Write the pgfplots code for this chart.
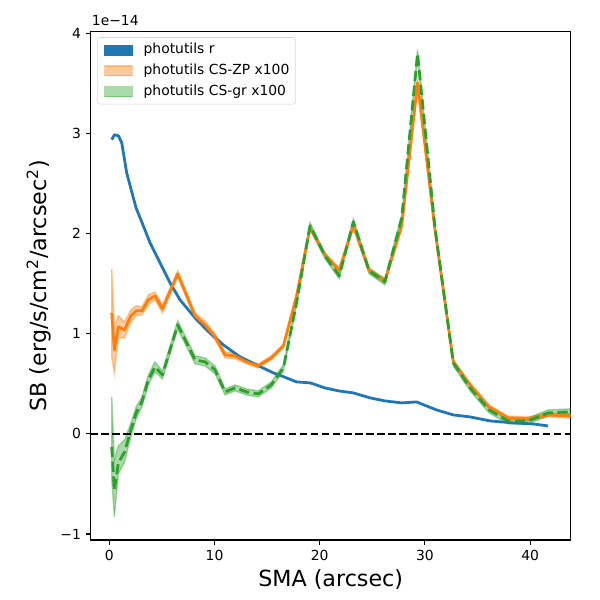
\documentclass[border=0pt]{standalone}
\usepackage{pgfplots}
\pgfplotsset{compat=1.18}
\usepgfplotslibrary{fillbetween}
\usepackage{pgfplotstable}
\usepackage{fontspec}
\setmainfont{DejaVu Sans}
\definecolor{C0}{HTML}{1F77B4}
\definecolor{C1}{HTML}{FF7F0E}
\definecolor{C2}{HTML}{2CA02C}

\pgfplotstableread{
x y
0.23 2.94
0.48 2.99
0.86 2.98
1.18 2.91
1.40 2.77
1.65 2.61
2.13 2.42
2.54 2.26
3.08 2.12
3.87 1.91
4.82 1.71
5.77 1.51
6.72 1.34
8.15 1.16
9.35 1.03
10.84 0.89
12.42 0.77
14.0 0.69
15.6 0.61
16.6 0.57
17.8 0.52
19.1 0.51
20.5 0.46
21.8 0.43
23.2 0.41
24.8 0.36
26.2 0.33
27.8 0.31
29.2 0.32
31.1 0.24
32.7 0.19
34.3 0.17
36.2 0.13
38.4 0.11
40.3 0.10
41.7 0.08
}\blue

\pgfplotstableread{
x y lo hi
0.23 1.21 0.77 1.65
0.48 0.84 0.61 1.07
0.86 1.07 0.96 1.18
1.45 1.04 0.96 1.12
2.05 1.18 1.12 1.24
2.55 1.23 1.18 1.28
3.1 1.23 1.19 1.27
3.71 1.34 1.29 1.39
4.34 1.38 1.34 1.42
5.05 1.25 1.21 1.29
6.5 1.60 1.57 1.63
8.15 1.18 1.15 1.21
9.1 1.09 1.05 1.13
10.05 0.97 0.94 1.00
11.0 0.79 0.76 0.82
11.95 0.78 0.75 0.81
13.05 0.72 0.70 0.74
14.15 0.68 0.66 0.70
15.4 0.76 0.74 0.78
16.55 0.88 0.86 0.90
17.8 1.38 1.36 1.40
19.08 2.06 2.04 2.08
20.5 1.79 1.77 1.81
21.86 1.64 1.62 1.66
23.2 2.08 2.06 2.10
24.7 1.63 1.61 1.65
26.2 1.53 1.51 1.55
27.8 2.08 2.06 2.10
29.3 3.51 3.48 3.54
30.96 2.04 2.02 2.06
32.7 0.72 0.70 0.74
34.3 0.49 0.47 0.51
36.1 0.27 0.25 0.29
37.9 0.16 0.14 0.18
39.8 0.15 0.13 0.17
41.7 0.19 0.17 0.21
43.8 0.18 0.16 0.20
45.9 0.18 0.16 0.20
}\orange

\pgfplotstableread{
x y lo hi
0.23 -0.13 -0.45 0.37
0.48 -0.56 -0.83 -0.26
0.86 -0.29 -0.40 -0.12
1.45 -0.18 -0.28 -0.06
2.05 0.04 -0.03 0.11
2.55 0.21 0.15 0.27
3.1 0.32 0.27 0.37
3.71 0.54 0.49 0.59
4.34 0.67 0.62 0.72
5.05 0.59 0.55 0.63
6.5 1.09 1.05 1.13
8.15 0.74 0.70 0.78
9.1 0.72 0.68 0.76
10.05 0.64 0.60 0.68
11.0 0.42 0.39 0.45
11.95 0.46 0.43 0.49
13.05 0.42 0.39 0.45
14.15 0.40 0.37 0.43
15.4 0.49 0.46 0.52
16.55 0.66 0.63 0.69
17.8 1.31 1.28 1.34
19.08 2.08 2.05 2.11
20.5 1.78 1.75 1.81
21.86 1.58 1.55 1.61
23.2 2.12 2.09 2.15
24.7 1.63 1.60 1.66
26.2 1.52 1.49 1.55
27.8 2.16 2.13 2.19
29.3 3.80 3.76 3.84
30.96 2.06 2.03 2.09
32.7 0.71 0.68 0.74
34.3 0.46 0.43 0.49
36.1 0.24 0.21 0.27
37.9 0.13 0.10 0.16
39.8 0.13 0.10 0.16
41.7 0.21 0.18 0.24
43.8 0.22 0.19 0.25
45.9 0.22 0.19 0.25
}\green

\begin{document}
\begin{tikzpicture}
\begin{axis}[
  scale only axis, width=345.6pt, height=366pt,
  xmin=-1.77, xmax=43.86, ymin=-1.06, ymax=4.02,
  axis line style={black, line width=0.8pt},
  tick align=outside, tick pos=left, major tick length=3.5pt,
  every tick/.style={black, line width=0.8pt},
  xtick={0,10,20,30,40}, xticklabels={0,10,20,30,40},
  ytick={-1,0,1,2,3,4}, yticklabels={−1,0,1,2,3,4},
  ticklabel style={font=\fontsize{10}{12}\selectfont},
  xlabel={SMA (arcsec)},
  ylabel={SB (erg/s/cm\textsuperscript{2}/arcsec\textsuperscript{2})},
  every axis x label/.style={at={([yshift=-28.8pt]rel axis cs:0.5,0)}, anchor=center, font=\fontsize{16}{19}\selectfont},
  every axis y label/.style={at={([xshift=-37.2pt]rel axis cs:0,0.5)}, rotate=90, anchor=center, font=\fontsize{16}{19}\selectfont},
  legend style={
    at={(0,1)}, anchor=north west, xshift=4.75pt, yshift=-4pt,
    draw=black!16, rounded corners=2pt, fill=white,
    font=\fontsize{10}{12}\selectfont,
    inner xsep=4.5pt, inner ysep=4pt, row sep=5pt,
    nodes={inner sep=0pt, text height=7.6pt, text depth=2.4pt},
  },
  legend cell align=left,
]
\addlegendimage{legend image code/.code={\fill[C0, sharp corners] (0pt,-3.5pt) rectangle (20pt,3.5pt); \path (28pt,0pt);}}
\addlegendentry{photutils r}
\addlegendimage{legend image code/.code={\filldraw[sharp corners, fill=C1, draw=C1, fill opacity=0.4, draw opacity=0.4, line width=1pt] (0pt,-3.5pt) rectangle (20pt,3.5pt); \path (28pt,0pt);}}
\addlegendentry{photutils CS-ZP x100}
\addlegendimage{legend image code/.code={\filldraw[sharp corners, fill=C2, draw=C2, fill opacity=0.4, draw opacity=0.4, line width=1pt] (0pt,-3.5pt) rectangle (20pt,3.5pt); \path (28pt,0pt);}}
\addlegendentry{photutils CS-gr x100}

\addplot[C0, line width=2pt, line join=round, forget plot] table[x=x,y=y]{\blue};

\addplot[name path=ohi, draw=none, forget plot] table[x=x,y=hi]{\orange};
\addplot[name path=olo, draw=none, forget plot] table[x=x,y=lo]{\orange};
\addplot[fill=C1, fill opacity=0.4, draw=C1, draw opacity=0.4, line width=1pt, forget plot] fill between[of=ohi and olo];
\addplot[C1, line width=2pt, line join=round, forget plot] table[x=x,y=y]{\orange};

\addplot[name path=ghi, draw=none, forget plot] table[x=x,y=hi]{\green};
\addplot[name path=glo, draw=none, forget plot] table[x=x,y=lo]{\green};
\addplot[fill=C2, fill opacity=0.4, draw=C2, draw opacity=0.4, line width=1pt, forget plot] fill between[of=ghi and glo];
\addplot[C2, line width=2pt, line join=round, dash pattern=on 7.4pt off 3.2pt, forget plot] table[x=x,y=y]{\green};

\addplot[black, line width=1.5pt, dash pattern=on 5.55pt off 2.4pt, forget plot] coordinates {(-5,0) (50,0)};
\end{axis}
\node[anchor=base west, inner sep=0pt, font=\fontsize{10}{12}\selectfont] at ([xshift=0.7pt,yshift=4.3pt]current axis.north west) {1e−14};
\pgfresetboundingbox
\path ([xshift=-65.3pt,yshift=-43.2pt]current axis.south west) rectangle ([xshift=21.1pt,yshift=22.8pt]current axis.north east);
\end{tikzpicture}
\end{document}
